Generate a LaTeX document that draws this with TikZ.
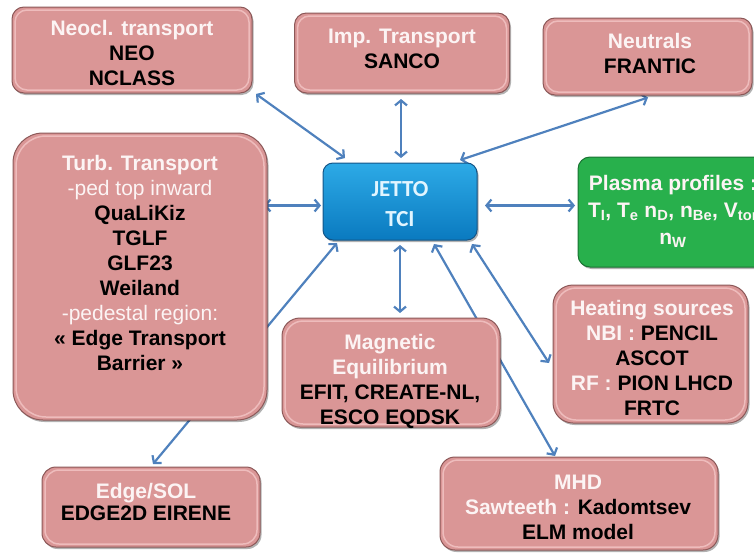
\documentclass[tikz,border=0pt]{standalone}
\usepackage{fontspec}
\setmainfont{Liberation Sans}
\newfontfamily\jettofont{Carlito}
\usetikzlibrary{arrows.meta,shadows,calc,backgrounds}

\definecolor{pinkfill}{RGB}{218,150,150}
\definecolor{pinkedge}{RGB}{140,88,88}
\definecolor{pinkrim}{RGB}{238,188,188}
\definecolor{hdwhite}{RGB}{252,244,244}
\definecolor{linkblue}{RGB}{79,129,189}
\definecolor{jettotop}{RGB}{45,170,230}
\definecolor{jettobot}{RGB}{10,122,192}
\definecolor{jettoedge}{RGB}{20,85,135}
\definecolor{jettotext}{RGB}{225,245,255}
\definecolor{greenfill}{RGB}{40,176,76}
\definecolor{greenedge}{RGB}{25,115,50}

\newcommand\hd[1]{\textcolor{hdwhite}{#1}}

\begin{document}
\begin{tikzpicture}[x=1pt,y=-1pt,
  box/.style={draw=pinkedge, line width=1pt, fill=pinkfill, rounded corners=#1,
    drop shadow={shadow xshift=1.5pt, shadow yshift=-2pt, opacity=0.3, fill=black},
    path picture={\draw[pinkrim, line width=1.5pt, rounded corners=#1]
      ([xshift=3pt,yshift=-3pt]path picture bounding box.north west) rectangle
      ([xshift=-3pt,yshift=3pt]path picture bounding box.south east);},
    inner sep=0pt, outer sep=0pt},
  txt/.style={align=center, inner sep=0pt, text=black,
    font=\fontsize{21}{25}\selectfont\bfseries},
  link/.style={draw=linkblue, line width=2.2pt,
    >={Straight Barb[length=5pt,width=12pt]}, <->},
]
\useasboundingbox (0,0) rectangle (754,554);
\clip (0,0) rectangle (754,554);

% ---- modules ----
\node[box=12pt, minimum width=240pt, minimum height=86pt] (neo) at (132,50) {};
\node[txt] (neotxt) at (132,53) {\hd{Neocl. transport}\\NEO\\NCLASS};

\node[box=12pt, minimum width=215pt, minimum height=80pt] (imp) at (402,53) {};
\node[txt] (imptxt) at (402,49) {\hd{Imp. Transport}\\SANCO};

\node[box=12pt, minimum width=209pt, minimum height=77pt] (neu) at (647.5,56.5) {};
\node[txt] (neutxt) at (650,53) {\hd{Neutrals}\\FRANTIC};

\node[box=30pt, minimum width=254pt, minimum height=287pt] (turb) at (140,276.5) {};
\node[txt] (turbtxt) at (140,263) {\hd{Turb. Transport}\\
  \hd{\mdseries -ped top inward}\\QuaLiKiz\\TGLF\\GLF23\\Weiland\\
  \hd{\mdseries -pedestal region:}\\« Edge Transport\\Barrier »};

\node[draw=jettoedge, line width=1pt, top color=jettotop, bottom color=jettobot,
  rounded corners=10pt, minimum width=154pt, minimum height=77pt,
  drop shadow={shadow xshift=1.5pt, shadow yshift=-2pt, opacity=0.3, fill=black},
  inner sep=0pt, outer sep=0pt] (jetto) at (400,201.5) {};
\node[align=center, inner sep=0pt, text=jettotext,
  font=\jettofont\fontsize{23}{30}\selectfont\bfseries] (jettotxt) at (400,204) {JETTO\\TCI};

\node[draw=greenedge, line width=1pt, fill=greenfill, rounded corners=12pt,
  minimum width=194pt, minimum height=110pt,
  drop shadow={shadow xshift=1.5pt, shadow yshift=-2pt, opacity=0.3, fill=black},
  inner sep=0pt, outer sep=0pt] (plasma) at (675,212) {};
\node[txt, text=hdwhite, font=\fontsize{21}{27}\selectfont\bfseries] (plasmatxt) at (673,211)
  {Plasma profiles :\\
   T\textsubscript{I}, T\textsubscript{e} n\textsubscript{D}, n\textsubscript{Be}, V\textsubscript{tor}\\
   n\textsubscript{W}};

\node[box=20pt, minimum width=195pt, minimum height=138pt] (heat) at (650.5,354) {};
\node[txt] (heattxt) at (652,358) {\hd{Heating sources}\\\hd{NBI : }PENCIL\\ASCOT\\
  \hd{RF : }PION LHCD\\FRTC};

\node[box=18pt, minimum width=218pt, minimum height=109pt] (mag) at (391,372.5) {};
\node[txt] (magtxt) at (390,381) {\hd{Magnetic}\\\hd{Equilibrium}\\EFIT, CREATE-NL,\\ESCO EQDSK};

\node[box=14pt, minimum width=218pt, minimum height=80pt] (edge) at (151,507) {};
\node[txt, font=\fontsize{21}{22}\selectfont\bfseries] (edgetxt) at (146,502) {\hd{Edge/SOL}\\EDGE2D EIRENE};

\node[box=15pt, minimum width=278pt, minimum height=93pt] (mhd) at (579,503.5) {};
\node[txt] (mhdtxt) at (578,507) {\hd{MHD}\\\hd{Sawteeth : }Kadomtsev\\ELM model};

% ---- couplings to the transport code ----
\begin{scope}[on background layer]
\draw[link] ($(neo.south east)+(4,1)$) -- ($(jetto.north west)+(22,-5)$);
\draw[link] ($(imp.south)+(-1,6)$) -- ($(jetto.north)+(1,-5)$);
\draw[link] ($(neu.south)+(0.5,2.5)$) -- ($(jetto.north east)+(-17,-3)$);
\draw[link] ($(turb.east|-jetto.west)+(-3,4)$) -- ($(jetto.west)+(-2,4)$);
\draw[link] ($(jetto.east)+(8,4)$) -- ($(plasma.west|-jetto.east)+(-3,4)$);
\draw[link] ($(jetto.south west)+(14,3)$) -- ($(edge.north)+(2,-3)$);
\draw[link] ($(jetto.south)+(0,5)$) -- ($(jetto.south|-mag.north)+(0,-5)$);
\draw[link] ($(jetto.south east)+(-5,4)$) -- ($(heat.west)+(-4,9)$);
\draw[link] ($(jetto.south)+(34,4)$) -- ($(mhd.north)+(-24,-1)$);
\end{scope}
\end{tikzpicture}
\end{document}
